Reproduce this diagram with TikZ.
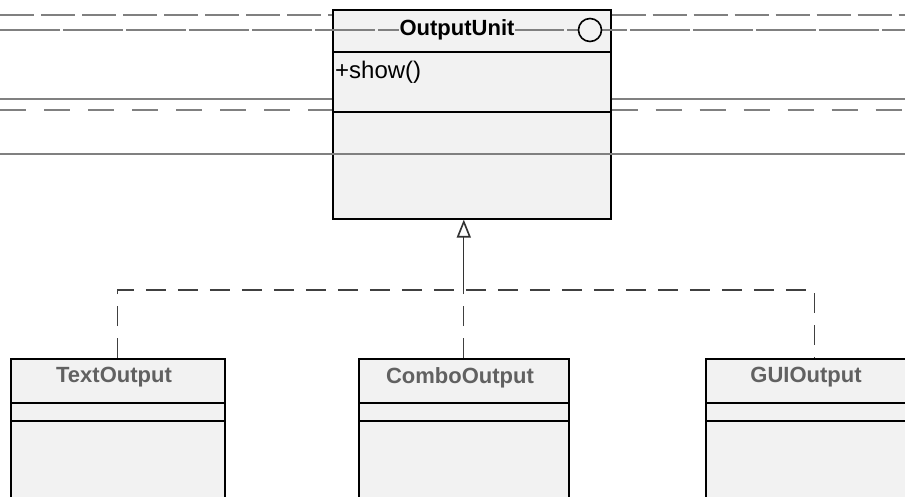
\documentclass[tikz,border=0pt]{standalone}
\usepackage{fontspec}
\setmainfont{Liberation Sans}
\usetikzlibrary{arrows.meta,positioning}
\tikzset{
  umlarr/.style={-{Triangle[open,length=18pt,width=14pt,line width=1.6pt]}, line width=1.3pt, draw=black!80},
  umlbox/.style={draw, line width=1.6pt, fill=black!5, inner sep=0pt, anchor=north west},
  umlname/.style={font=\fontsize{22}{24}\selectfont\bfseries, inner sep=1pt},
  scanline/.style={draw=black!50, line width=1.1pt},
}

\begin{document}
\begin{tikzpicture}[
  x=1pt, y=-1pt,
  cls/.style={umlbox, minimum width=#1, minimum height=170pt},
  sub/.style={umlname, text=black!62},
  bus/.style={line width=1.2pt, draw=black!75, dash pattern=on 20pt off 12pt},
]
  \useasboundingbox (0,0) rectangle (905,497);
  \fill[white] (0,0) rectangle (905,497);

  % interface
  \node[umlbox, minimum width=278pt, minimum height=209pt] (unit) at (332,9) {};
  \draw[line width=1.6pt] ([yshift=-43pt]unit.north west) -- ([yshift=-43pt]unit.north east);
  \draw[line width=1.6pt] ([yshift=-103pt]unit.north west) -- ([yshift=-103pt]unit.north east);

  % implementations
  \node[cls=214pt] (text) at (10,358) {};
  \node[cls=210pt] (combo) at (358,358) {};
  \node[cls=218pt] (gui) at (705,358) {};
  \foreach \c in {text,combo,gui}{
    \draw[line width=1.4pt] ([yshift=-45pt]\c.north west) -- ([yshift=-45pt]\c.north east);
    \draw[line width=1.4pt] ([yshift=-63pt]\c.north west) -- ([yshift=-63pt]\c.north east);
  }

  % scan lines
  \draw[scanline, dash pattern=on 34pt off 7pt] (0,15) -- (unit.west |- 0,15);
  \draw[scanline, dash pattern=on 34pt off 7pt] (unit.east |- 0,15) -- (905,15);
  \draw[scanline, dash pattern=on 60pt off 3pt] (0,30) -- (905,30);
  \draw[scanline] (0,99) -- (unit.west |- 0,99);
  \draw[scanline] (unit.east |- 0,99) -- (905,99);
  \draw[scanline, dash pattern=on 26pt off 18pt] (0,110) -- (unit.west |- 0,110);
  \draw[scanline, dash pattern=on 26pt off 18pt] (unit.east |- 0,110) -- (905,110);
  \draw[scanline] (0,154) -- (905,154);

  \node[umlname, fill=black!5] (unitname) at (457,30) {OutputUnit};
  \node[draw, circle, line width=1.6pt, minimum size=23pt, inner sep=0pt, fill=black!5] (unitmark) at (590,30) {};
  \node[font=\fontsize{24}{26}\selectfont, anchor=west, inner sep=1pt] (unitop) at (334,72) {+show()};

  \node[sub] (textname) at (114,377) {TextOutput};
  \node[sub] (comboname) at (460,378) {ComboOutput};
  \node[sub] (guiname) at (806,377) {GUIOutput};

  % realization
  \coordinate (join) at (combo.north |- 0,290);
  \draw[bus] (text.north) |- (join) -| (gui.north);
  \draw[bus] (combo.north) -- (join);
  \draw[umlarr] (join) -- (join |- unit.south);
\end{tikzpicture}
\end{document}
